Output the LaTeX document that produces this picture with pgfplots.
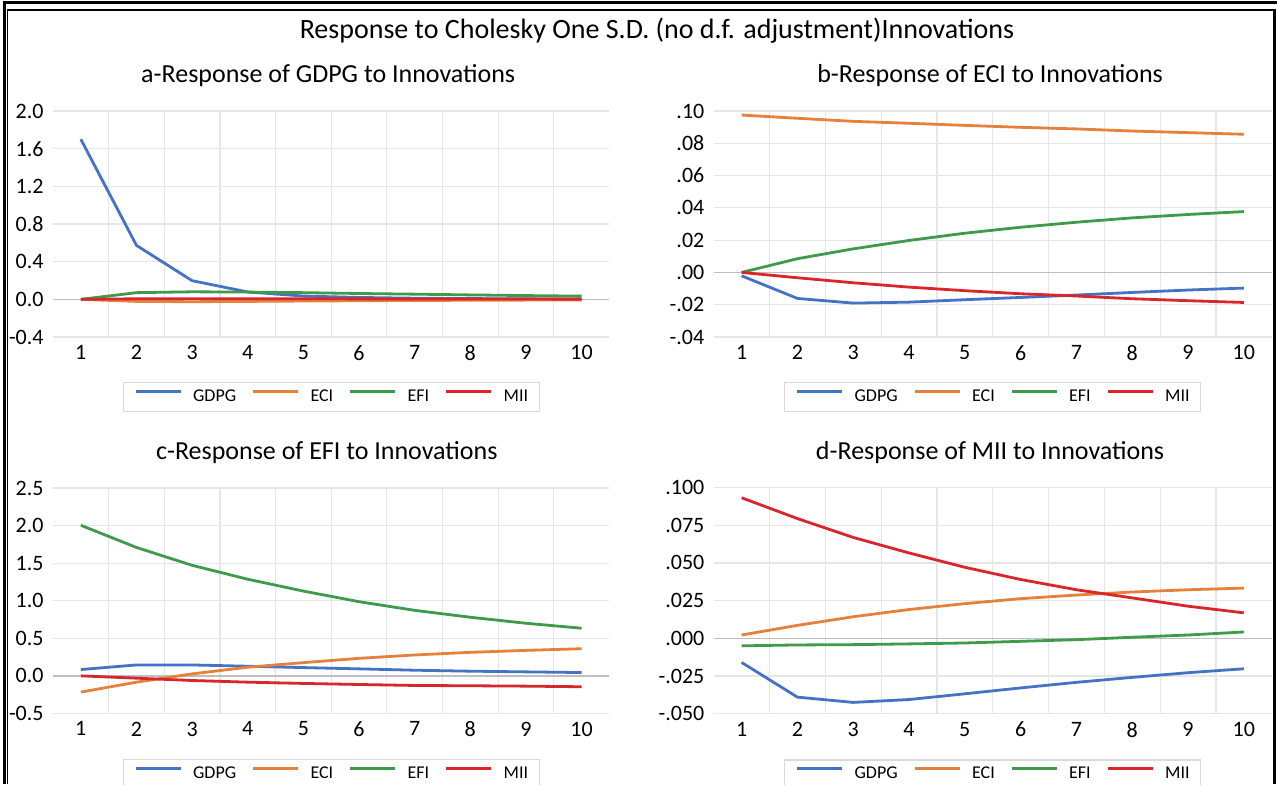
\documentclass[border=0pt]{standalone}
\usepackage{fontspec}
\setmainfont{Carlito}
\usepackage{pgfplots}
\pgfplotsset{compat=1.18}
\definecolor{sblue}{HTML}{4472C4}
\definecolor{sorange}{HTML}{E5813A}
\definecolor{sgreen}{HTML}{3E9B4A}
\definecolor{sred}{HTML}{D9262B}
\definecolor{gridgray}{HTML}{E6E6E6}
\definecolor{zerogray}{HTML}{BFBFBF}
\definecolor{legendgray}{HTML}{D9D9D9}
\pgfplotsset{
  irf/.style={
    scale only axis,
    xmin=0.5, xmax=10.5,
    xtick={1,2,3,4,5,6,7,8,9,10},
    xticklabels={1,2,3,4,5,6,7,8,9,10},
    minor xtick={1.5,2.5,3.5,4.5,5.5,6.5,7.5,8.5,9.5},
    xminorgrids, ymajorgrids,
    major tick length=0pt, minor tick length=0pt,
    axis line style={draw=none},
    grid style={draw=gridgray, line width=0.6pt},
    minor grid style={draw=gridgray, line width=0.6pt},
    tick label style={font=\fontsize{11}{13}\selectfont, inner sep=0pt},
    yticklabel style={anchor=east, xshift=-4.5pt},
    xticklabel style={anchor=north, yshift=-4pt},
    title style={font=\fontsize{13}{15}\selectfont, at={(0.5,1)}, anchor=center, yshift=11.5pt},
    extra y ticks={0}, extra y tick labels={},
    extra y tick style={grid style={draw=zerogray, line width=0.75pt}},
    every axis plot/.append style={line width=1.4pt, mark=none},
    legend columns=4,
    legend image code/.code={\draw[#1, line width=1.4pt] (0pt,0.28em) -- (22.5pt,0.28em);},
    legend style={anchor=north, draw=legendgray, line width=0.6pt,
      font=\fontsize{9}{11}\selectfont, inner xsep=5.5pt, inner ysep=3.5pt,
      nodes={inner sep=0pt},
      /tikz/every odd column/.append style={column sep=5.5pt},
      /tikz/every even column/.append style={column sep=7.8pt}},
  }
}
\begin{document}
\begin{tikzpicture}
\useasboundingbox (0,0) rectangle (638.5pt,392pt);
% frame
\draw[line width=1.5pt] (2pt,0) -- (2pt,390.5pt) -- (638.5pt,390.5pt);
\draw[line width=0.6pt] (3.75pt,0) -- (3.75pt,387pt) -- (637pt,387pt);
\draw[line width=1.5pt] (637pt,387.3pt) -- (637pt,0);
\node[font=\fontsize{14}{16}\selectfont, anchor=center] at (328.5pt,376.5pt) {Response to Cholesky One S.D. (no d.f. adjustment)Innovations};

% a
\begin{axis}[irf, at={(26.5pt,223.5pt)}, anchor=south west, width=278.2pt, height=113pt,
  ymin=-0.4, ymax=2.0,
  ytick={-0.4,0,0.4,0.8,1.2,1.6,2.0},
  yticklabels={-0.4,0.0,0.4,0.8,1.2,1.6,2.0},
  title={a-Response of GDPG to Innovations}, title style={xshift=-1.5pt},
  legend style={at={(0.5,-0.199)}}]
\addplot[sblue] coordinates {(1,1.70) (2,0.573) (3,0.198) (4,0.078) (5,0.035) (6,0.020) (7,0.012) (8,0.008) (9,0.005) (10,0.003)};
\addplot[sorange] coordinates {(1,0.0) (2,-0.022) (3,-0.025) (4,-0.022) (5,-0.018) (6,-0.015) (7,-0.012) (8,-0.010) (9,-0.008) (10,-0.006)};
\addplot[sgreen] coordinates {(1,0.0) (2,0.071) (3,0.080) (4,0.077) (5,0.071) (6,0.062) (7,0.055) (8,0.047) (9,0.040) (10,0.034)};
\addplot[sred] coordinates {(1,0.0) (2,0.006) (3,0.007) (4,0.007) (5,0.006) (6,0.005) (7,0.004) (8,0.003) (9,0.003) (10,0.002)};
\legend{GDPG,ECI,EFI,MII}
\end{axis}

% b
\begin{axis}[irf, at={(356.85pt,223.5pt)}, anchor=south west, width=279pt, height=113pt,
  ymin=-0.04, ymax=0.10,
  ytick={-0.04,-0.02,0,0.02,0.04,0.06,0.08,0.10},
  yticklabels={-.04,-.02,.00,.02,.04,.06,.08,.10},
  title={b-Response of ECI to Innovations}, title style={xshift=-1.3pt},
  legend style={at={(0.5,-0.199)}}]
\addplot[sblue] coordinates {(1,-0.0021) (2,-0.0161) (3,-0.0190) (4,-0.0184) (5,-0.0169) (6,-0.0155) (7,-0.0140) (8,-0.0124) (9,-0.0109) (10,-0.0097)};
\addplot[sorange] coordinates {(1,0.0975) (2,0.0955) (3,0.0936) (4,0.0924) (5,0.0911) (6,0.0899) (7,0.0889) (8,0.0876) (9,0.0866) (10,0.0856)};
\addplot[sgreen] coordinates {(1,0.0) (2,0.0085) (3,0.0146) (4,0.0198) (5,0.0243) (6,0.0280) (7,0.0311) (8,0.0338) (9,0.0359) (10,0.0377)};
\addplot[sred] coordinates {(1,0.0) (2,-0.0033) (3,-0.0064) (4,-0.0091) (5,-0.0113) (6,-0.0132) (7,-0.0146) (8,-0.0163) (9,-0.0175) (10,-0.0186)};
\legend{GDPG,ECI,EFI,MII}
\end{axis}

% c
\begin{axis}[irf, at={(26.5pt,35.3pt)}, anchor=south west, width=278.2pt, height=112.7pt,
  ymin=-0.5, ymax=2.5,
  ytick={-0.5,0,0.5,1.0,1.5,2.0,2.5},
  yticklabels={-0.5,0.0,0.5,1.0,1.5,2.0,2.5},
  title={c-Response of EFI to Innovations}, title style={xshift=-2.2pt},
  legend style={at={(0.5,-0.202)}}]
\addplot[sblue] coordinates {(1,0.084) (2,0.145) (3,0.145) (4,0.128) (5,0.110) (6,0.093) (7,0.075) (8,0.062) (9,0.053) (10,0.044)};
\addplot[sorange] coordinates {(1,-0.216) (2,-0.084) (3,0.026) (4,0.115) (5,0.176) (6,0.233) (7,0.278) (8,0.313) (9,0.339) (10,0.361)};
\addplot[sgreen] coordinates {(1,2.004) (2,1.709) (3,1.471) (4,1.286) (5,1.128) (6,0.987) (7,0.872) (8,0.780) (9,0.700) (10,0.634)};
\addplot[sred] coordinates {(1,0.0) (2,-0.031) (3,-0.062) (4,-0.084) (5,-0.101) (6,-0.115) (7,-0.128) (8,-0.132) (9,-0.137) (10,-0.145)};
\legend{GDPG,ECI,EFI,MII}
\end{axis}

% d
\begin{axis}[irf, at={(356.85pt,35.15pt)}, anchor=south west, width=279pt, height=113.1pt,
  ymin=-0.05, ymax=0.10,
  ytick={-0.05,-0.025,0,0.025,0.05,0.075,0.10},
  yticklabels={-.050,-.025,.000,.025,.050,.075,.100},
  title={d-Response of MII to Innovations}, title style={xshift=-1.3pt},
  legend style={at={(0.5,-0.202)}}]
\addplot[sblue] coordinates {(1,-0.0160) (2,-0.0390) (3,-0.0425) (4,-0.0406) (5,-0.0368) (6,-0.0329) (7,-0.0292) (8,-0.0259) (9,-0.0228) (10,-0.0202)};
\addplot[sorange] coordinates {(1,0.0022) (2,0.0086) (3,0.0143) (4,0.0191) (5,0.0230) (6,0.0263) (7,0.0287) (8,0.0307) (9,0.0322) (10,0.0333)};
\addplot[sgreen] coordinates {(1,-0.0050) (2,-0.0044) (3,-0.0042) (4,-0.0037) (5,-0.0031) (6,-0.0020) (7,-0.0009) (8,0.0007) (9,0.0022) (10,0.0042)};
\addplot[sred] coordinates {(1,0.0932) (2,0.0794) (3,0.0669) (4,0.0566) (5,0.0471) (6,0.0390) (7,0.0322) (8,0.0268) (9,0.0213) (10,0.0169)};
\legend{GDPG,ECI,EFI,MII}
\end{axis}
\end{tikzpicture}
\end{document}
